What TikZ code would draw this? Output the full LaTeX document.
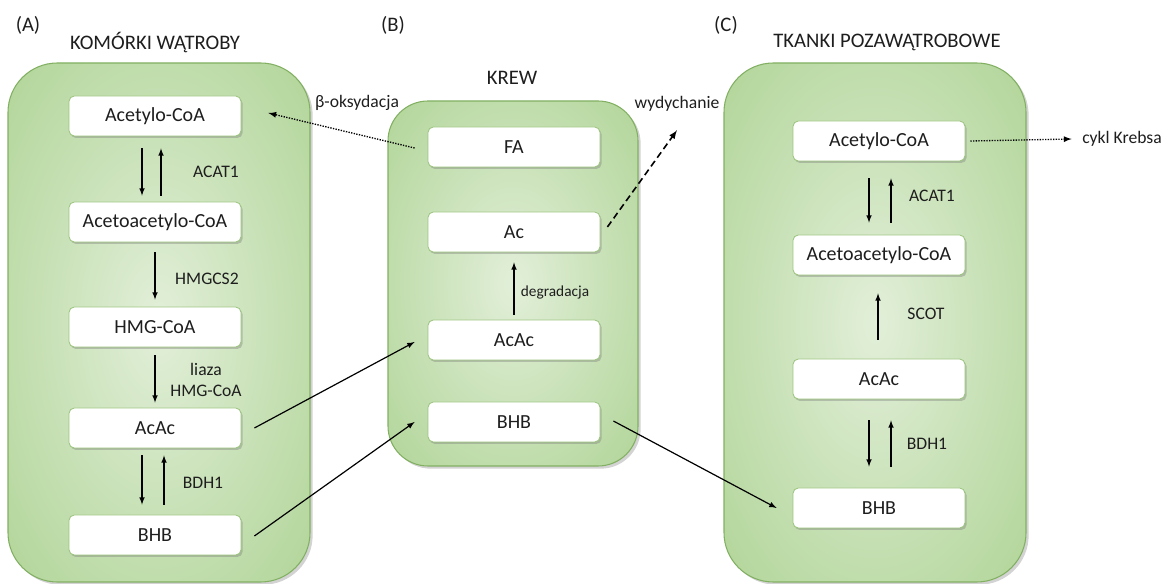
\documentclass[tikz,border=0pt]{standalone}
\usepackage{fontspec}
\setmainfont{Carlito}
\usetikzlibrary{shadows}
\definecolor{panelin}{HTML}{E2EFD9}
\definecolor{panelmid}{HTML}{C6E0B4}
\definecolor{panelout}{HTML}{A9D18E}
\definecolor{panelrim}{HTML}{82B062}
\definecolor{boxrim}{HTML}{9BC47D}
\definecolor{inktext}{HTML}{1E1E1E}
\pgfdeclareradialshading{panelglow}{\pgfpoint{0bp}{0bp}}{color(0bp)=(panelin); color(20bp)=(panelmid); color(42bp)=(panelout); color(100bp)=(panelout)}

\tikzset{
  panel/.style={draw=panelrim, shading=panelglow, line width=0.8pt,
    drop shadow={shadow xshift=2pt, shadow yshift=-2pt, opacity=0.35}},
  molbox/.style={draw=boxrim, fill=white, rounded corners=4pt, line width=0.6pt,
    minimum width=129pt, minimum height=30pt, text=inktext, font=\fontsize{15}{18}\selectfont,
    drop shadow={shadow xshift=1.2pt, shadow yshift=-1.5pt, opacity=0.4}},
  enzyme/.style={text=inktext, font=\fontsize{13.2}{16}\selectfont, align=center},
  heading/.style={text=inktext, font=\fontsize{15.5}{18}\selectfont},
  flow/.style={->, line width=0.9pt},
}

\begin{document}
\begin{tikzpicture}[x=0.75pt, y=-0.75pt, >=latex]
  \useasboundingbox (0,0) rectangle (1165,584);
  % tla
  \path[panel, rounded corners=37pt] (8,63) rectangle (310,582);
  \path[panel, rounded corners=30pt] (388,101) rectangle (638,466);
  \path[panel, rounded corners=37pt] (724,63) rectangle (1026,582);

  \node[heading] (labA) at (28,25) {(A)};
  \node[heading] (labB) at (393,25) {(B)};
  \node[heading] (labC) at (726,25) {(C)};
  \node[heading] (titA) at (155,43) {KOMÓRKI WĄTROBY};
  \node[heading] (titB) at (512,78) {KREW};
  \node[heading] (titC) at (887,42) {TKANKI POZAWĄTROBOWE};

  % (A) watroba
  \node[molbox] (aacoa)  at (155,116) {Acetylo-CoA};
  \node[molbox] (aaacoa) at (155,222) {Acetoacetylo-CoA};
  \node[molbox] (ahmg)   at (155,327) {HMG-CoA};
  \node[molbox] (aacac)  at (155,428) {AcAc};
  \node[molbox] (abhb)   at (155,535) {BHB};

  \draw[flow] ([shift={(-13,12)}]aacoa.south) -- ([shift={(-13,-6)}]aaacoa.north);
  \draw[flow] ([shift={(6,-6)}]aaacoa.north) -- ([shift={(6,12)}]aacoa.south);
  \node[enzyme] (acat) at (216,172) {ACAT1};
  \draw[flow] ([shift={(0,10)}]aaacoa.south) -- ([shift={(0,-7)}]ahmg.north);
  \node[enzyme] (hmgcs) at (207,279) {HMGCS2};
  \draw[flow] ([shift={(0,8)}]ahmg.south) -- ([shift={(0,-5)}]aacac.north);
  \node[enzyme] (liaza) at (206,380) {liaza\\HMG-CoA};
  \draw[flow] ([shift={(-13,7)}]aacac.south) -- ([shift={(-13,-10)}]abhb.north);
  \draw[flow] ([shift={(9,-10)}]abhb.north) -- ([shift={(9,7)}]aacac.south);
  \node[enzyme] (bdha) at (203,483) {BDH1};

  % (B) krew
  \node[molbox] (bfa)   at (514,147) {FA};
  \node[molbox] (bac)   at (514,232) {Ac};
  \node[molbox] (bacac) at (514,340) {AcAc};
  \node[molbox] (bbhb)  at (514,422) {BHB};

  \draw[flow] ([shift={(0,-5)}]bacac.north) -- ([shift={(0,10)}]bac.south);
  \node[enzyme, font=\fontsize{11.5}{14}\selectfont] (degr) at (555,292) {degradacja};

  % (C) tkanki
  \node[molbox] (cacoa)  at (879,141) {Acetylo-CoA};
  \node[molbox] (caacoa) at (879,255) {Acetoacetylo-CoA};
  \node[molbox] (cacac)  at (879,379) {AcAc};
  \node[molbox] (cbhb)   at (879,508) {BHB};

  \draw[flow] ([shift={(-10,17)}]cacoa.south) -- ([shift={(-10,-12)}]caacoa.north);
  \draw[flow] ([shift={(12,-12)}]caacoa.north) -- ([shift={(12,17)}]cacoa.south);
  \node[enzyme] (acatc) at (932,196) {ACAT1};
  \draw[flow] ([shift={(-1,-19)}]cacac.north) -- ([shift={(-1,18)}]caacoa.south);
  \node[enzyme] (scot) at (926,314) {SCOT};
  \draw[flow] ([shift={(-10,21)}]cacac.south) -- ([shift={(-10,-21)}]cbhb.north);
  \draw[flow] ([shift={(12,-21)}]cbhb.north) -- ([shift={(12,21)}]cacac.south);
  \node[enzyme] (bdhc) at (927,444) {BDH1};

  % przeplywy miedzy przedzialami
  \node[enzyme] (betaox) at (357,103) {β-oksydacja};
  \draw[->, densely dotted, line width=1pt] ([shift={(-13,1)}]bfa.west) -- ([shift={(27,-3)}]aacoa.east);
  \node[enzyme] (wyd) at (677,104) {wydychanie};
  \draw[->, dashed, line width=1.2pt, dash pattern=on 5pt off 3pt] ([shift={(7,-5)}]bac.east) -- ([shift={(0,14)}]wyd.south);
  \node[enzyme] (krebs) at (1122,139) {cykl Krebsa};
  \draw[->, densely dotted, line width=1pt] ([shift={(5,0)}]cacoa.east) -- ([shift={(-6,0)}]krebs.west);
  \draw[flow] ([shift={(13,0)}]aacac.east) -- ([shift={(-13,2)}]bacac.west);
  \draw[flow] ([shift={(13,1)}]abhb.east) -- ([shift={(-13,0)}]bbhb.west);
  \draw[flow] ([shift={(13,-1)}]bbhb.east) -- ([shift={(-16,0)}]cbhb.west);
\end{tikzpicture}
\end{document}
